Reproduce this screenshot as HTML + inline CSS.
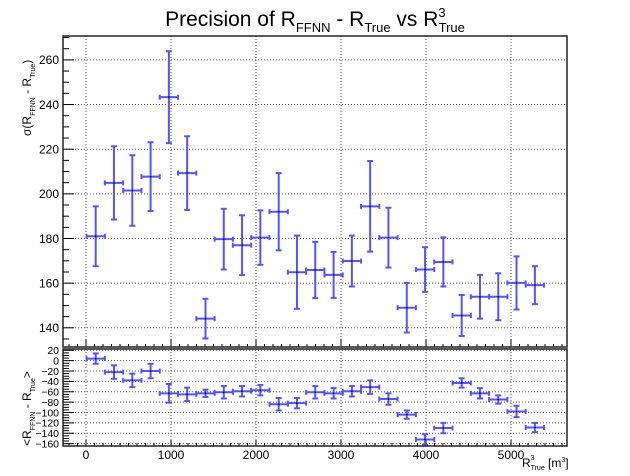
<!DOCTYPE html>
<html><head><meta charset="utf-8"><style>
body{margin:0;background:#fff;}
svg{display:block;font-family:"Liberation Sans",Arial,sans-serif;}
</style></head><body>
<svg id="c" width="630" height="476" viewBox="0 0 630 476">
<text x="315" y="26" text-anchor="middle" font-size="21">Precision of R<tspan font-size="13" dy="6">FFNN</tspan><tspan dy="-6"> - R</tspan><tspan font-size="13" dy="6">True</tspan><tspan dy="-6"> vs R</tspan><tspan font-size="13" dy="-9">3</tspan><tspan font-size="13" dx="-7" dy="15">True</tspan></text>
<g id="top"></g>
<g id="bot"></g>
<text transform="translate(31,136) rotate(-90)" font-size="12">σ(R<tspan font-size="7" dy="4">FFNN</tspan><tspan dy="-4"> - R</tspan><tspan font-size="7" dy="4">True</tspan><tspan dy="-4">)</tspan></text>
<text transform="translate(31,446) rotate(-90)" font-size="12">&lt;R<tspan font-size="7" dy="4">FFNN</tspan><tspan dy="-4"> - R</tspan><tspan font-size="7" dy="4">True</tspan><tspan dy="-4">&gt;</tspan></text>
<text x="522" y="467" font-size="12">R<tspan font-size="7" dy="-7">3</tspan><tspan font-size="7" dx="-4" dy="10">True</tspan><tspan dy="-3"> [m</tspan><tspan font-size="7" dy="-5">3</tspan><tspan dy="5">]</tspan></text>
</svg>
<script>
const xCenters=[114,329,545,760,975,1190,1406,1621,1836,2051,2267,2482,2697,2913,3128,3343,3558,3774,3989,4204,4420,4635,4850,5065,5281];
const binHalf=107.6;
const sigmaVals=[181,204.9,201.5,207.7,243.3,209.3,144.1,179.7,177,180.4,192,164.9,165.9,163.7,169.9,194.4,180.4,149,166.1,169.5,145.5,153.9,153.9,160.1,159.1];
const sigmaErrs=[13.4,16.4,15.8,15.4,20.6,16.5,8.9,13.6,13.4,12.2,17.3,16.4,12.6,10.3,11.4,20.3,13.4,11.1,10,11,9.2,9.8,10.5,11.9,8.5];
const meanVals=[4,-22,-38,-20,-63,-65,-63,-61,-59,-57,-84,-82,-61,-63,-59,-51,-74,-104,-152,-130,-43,-63,-75,-98,-129];
const meanErrs=[10,13,13,14,18,13,7,12,10,10,12,10,12,10,10,13,11,8,10,10,9,10,8,11,9];
const xTicks=[0,1000,2000,3000,4000,5000];
const sigmaTicks=[140,160,180,200,220,240,260];
const meanTicks=[20,0,-20,-40,-60,-80,-100,-120,-140,-160];

const NS="http://www.w3.org/2000/svg";
const L=63,R=567;
const X=v=>86+v*0.085;
function mk(p,t,a){const e=document.createElementNS(NS,t);for(const k in a)e.setAttribute(k,a[k]);p.appendChild(e);return e;}
function pad(g,top,bot,ymin,ymax,ticks,minorStep,vals,errs,showX,prefix,fs){
  const Y=v=>bot-(v-ymin)/(ymax-ymin)*(bot-top);
  for(const t of xTicks){const l=mk(g,'line',{x1:X(t),x2:X(t),y1:top,y2:bot,stroke:'#555','stroke-dasharray':'1,2','stroke-width':1});
    }
  for(const t of ticks){const l=mk(g,'line',{x1:L,x2:R,y1:Y(t),y2:Y(t),stroke:'#555','stroke-dasharray':'1,2','stroke-width':1});
    
    const tx=mk(g,'text',{x:L-4,y:Y(t)+fs*0.36,'text-anchor':'end','font-size':fs});tx.textContent=String(t).replace('-','\u2212');
    }
  for(let v=Math.ceil(ymin/minorStep)*minorStep;v<=ymax;v+=minorStep){
    const maj=ticks.includes(v);mk(g,'line',{x1:L,x2:L+(maj?11:6),y1:Y(v),y2:Y(v),stroke:'#000','stroke-width':1});}
  for(let v=-200;v<=5600;v+=100){if(X(v)<L||X(v)>R)continue;const maj=v%1000===0;
    mk(g,'line',{x1:X(v),x2:X(v),y1:bot,y2:bot-(maj?(showX?6:8):3),stroke:'#000','stroke-width':1});}
  if(showX)for(const t of xTicks){const tx=mk(g,'text',{x:X(t),y:bot+13,'text-anchor':'middle','font-size':12});tx.textContent=t;
    }
  vals.forEach((v,i)=>{const cx=X(xCenters[i]),cy=Y(v),e=errs[i];
    const p=mk(g,'g',{stroke:'#5555ff','stroke-width':2,fill:'none'});
    
    const x1=X(xCenters[i]-binHalf),x2=X(xCenters[i]+binHalf),y1=Y(v+e),y2=Y(v-e);
    mk(p,'line',{x1:x1,x2:x2,y1:cy,y2:cy});mk(p,'line',{x1:cx,x2:cx,y1:y1,y2:y2});
    mk(p,'line',{x1:x1,x2:x1,y1:cy-2.5,y2:cy+2.5});mk(p,'line',{x1:x2,x2:x2,y1:cy-2.5,y2:cy+2.5});
    mk(p,'line',{x1:cx-3,x2:cx+3,y1:y1,y2:y1});mk(p,'line',{x1:cx-3,x2:cx+3,y1:y2,y2:y2});
    mk(g,'rect',{x:cx-0.7,y:cy-0.7,width:1.4,height:1.4,fill:'#000'});});
  const f=mk(g,'rect',{x:L,y:top,width:R-L,height:bot-top,fill:'none',stroke:'#222','stroke-width':1.5});
  
}
pad(document.getElementById('top'),36,347,131.4,270.7,sigmaTicks,5,sigmaVals,sigmaErrs,false,'sigma',12);
pad(document.getElementById('bot'),349,446,-164.6,22.5,meanTicks,5,meanVals,meanErrs,true,'mean',10.5);
</script>
</body></html>
